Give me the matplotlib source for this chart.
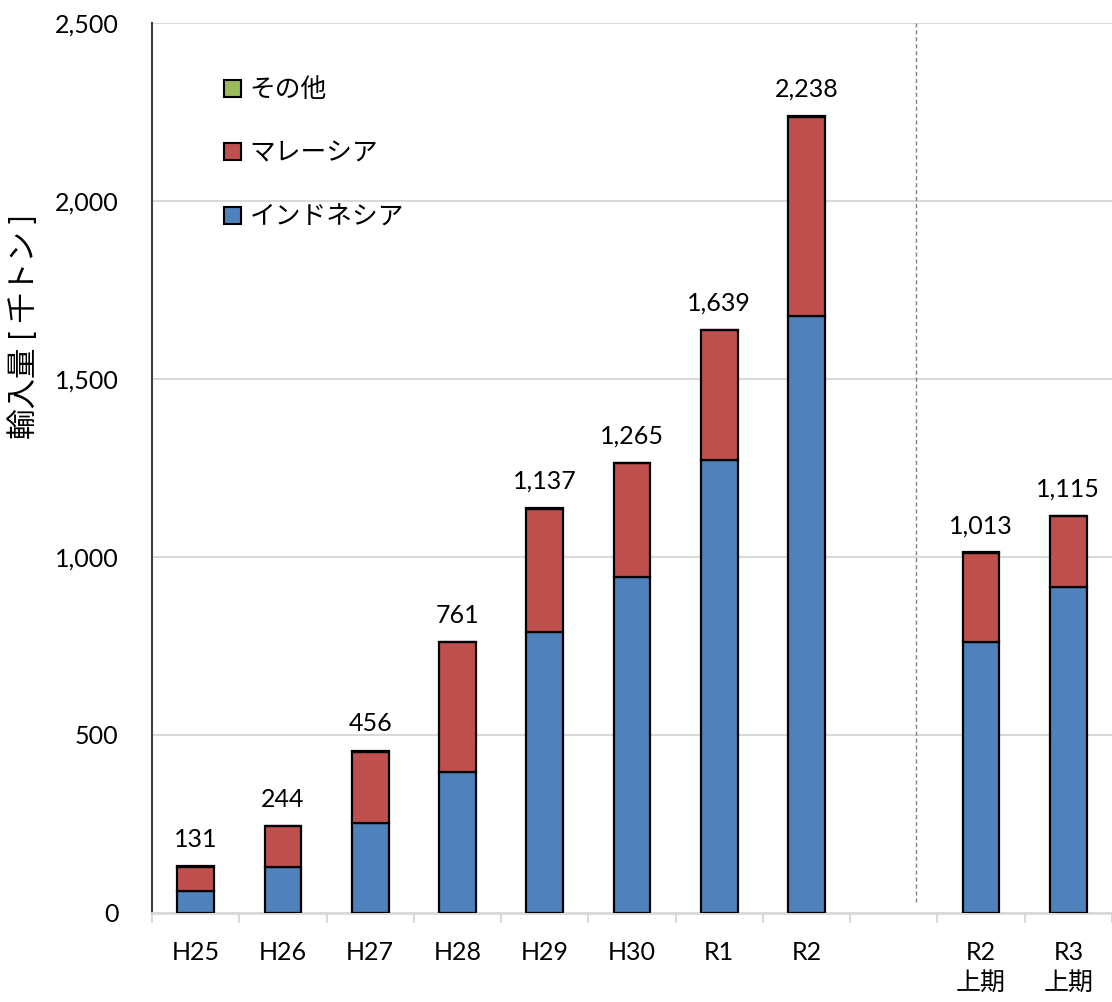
import numpy as np
import matplotlib.pyplot as plt
from matplotlib.patches import Patch

plt.rcParams['font.family'] = ['Lato', 'Noto Sans CJK JP']

# data (thousand tonnes)
categories = ['H25', 'H26', 'H27', 'H28', 'H29', 'H30', 'R1', 'R2', '', 'R2\n上期', 'R3\n上期']
totals = [131, 244, 456, 761, 1137, 1265, 1639, 2238, None, 1013, 1115]
indonesia = [63, 129, 253, 396, 789, 944, 1272, 1677, None, 761, 916]
other = [1, 1, 3, 1, 1, 1, 1, 3, None, 3, 1]
series_names = ['インドネシア', 'マレーシア', 'その他']
colors = ['#4F81BD', '#C0504D', '#9BBB59']

idx = [i for i, t in enumerate(totals) if t is not None]
x = np.array(idx, dtype=float)
indo = np.array([indonesia[i] for i in idx], dtype=float)
oth = np.array([other[i] for i in idx], dtype=float)
tot = np.array([totals[i] for i in idx], dtype=float)
malay = tot - indo - oth

fig = plt.figure(figsize=(11.12, 10.02), dpi=100)
ax = fig.add_axes([152 / 1112, 89 / 1002, 960 / 1112, 890 / 1002])

w = 0.42
ax.bar(x, indo, w, color=colors[0], edgecolor='black', linewidth=1.6, zorder=3)
ax.bar(x, malay, w, bottom=indo, color=colors[1], edgecolor='black', linewidth=1.6, zorder=3)
ax.bar(x, oth, w, bottom=indo + malay, color=colors[2], edgecolor='black', linewidth=1.6, zorder=3)

for xi, t in zip(x, tot):
    ax.annotate(f'{int(t):,}', (xi, t), xytext=(0, 11), textcoords='offset points',
                ha='center', va='bottom', fontsize=18)

ax.set_xlim(-0.5, len(categories) - 0.5)
ax.set_ylim(0, 2500)
ax.set_yticks(np.arange(0, 2501, 500))
ax.set_yticklabels([f'{v:,}' for v in range(0, 2501, 500)], fontsize=18)
ax.yaxis.grid(True, color='#D9D9D9', linewidth=1.5, zorder=0)
ax.tick_params(axis='y', length=0, pad=24)

ax.set_xticks(range(len(categories)))
ax.set_xticklabels(categories, fontsize=18, linespacing=1.35)
ax.set_xticks(np.arange(-0.5, len(categories)), minor=True)
ax.tick_params(axis='x', which='major', length=0, pad=20)
ax.tick_params(axis='x', which='minor', length=7, width=1.5, color='#D9D9D9')

for s in ['top', 'right']:
    ax.spines[s].set_visible(False)
ax.spines['left'].set_color('#404040')
ax.spines['left'].set_linewidth(1.5)
ax.spines['bottom'].set_color('#D9D9D9')
ax.spines['bottom'].set_linewidth(2)

# separator between annual and half-year figures
ax.axvline(8.25, ymin=0.012, ymax=1, color='#808080', linestyle=(0, (3, 2)), linewidth=1, zorder=2)

handles = [Patch(facecolor=colors[i], edgecolor='black', linewidth=1.5) for i in [2, 1, 0]]
ax.legend(handles, [series_names[i] for i in [2, 1, 0]], loc='upper left',
          bbox_to_anchor=(0.051, 0.965), frameon=False, fontsize=18.5,
          handlelength=0.65, handleheight=0.65, handletextpad=0.35, labelspacing=1.5)

fig.text(23 / 1112, 1 - 327 / 1002, '輸入量 [ 千トン ]', rotation=90, ha='center', va='center', fontsize=22)

fig.savefig('out.png', dpi=100)
